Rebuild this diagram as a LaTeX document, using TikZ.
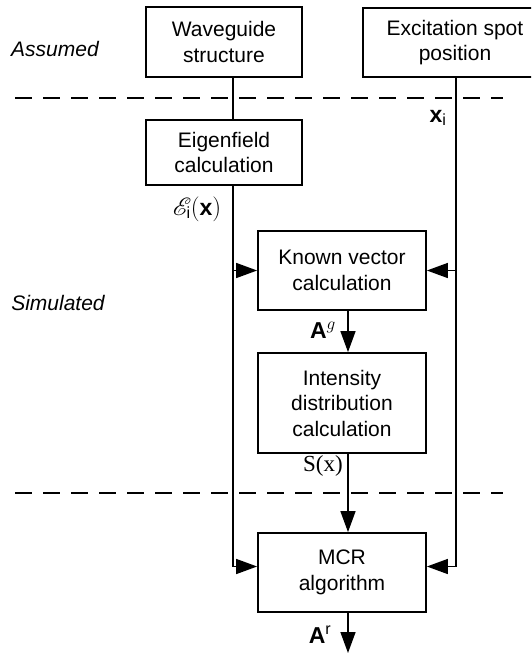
\documentclass[tikz,border=0pt]{standalone}
\usepackage{fontspec}
\usepackage{mathrsfs}
\setmainfont{Liberation Sans}
\newfontfamily\seriffont{Liberation Serif}
\usetikzlibrary{arrows.meta}
\begin{document}
\begin{tikzpicture}[x=1pt,y=-1pt,
  box/.style={draw, line width=1.8pt, rectangle, align=center, inner sep=0pt,
    font=\fontsize{21}{25.5}\selectfont},
  lab/.style={inner sep=0pt, font=\fontsize{21}{24}\selectfont},
  mlab/.style={inner sep=0pt, font=\fontsize{23}{24}\selectfont},
  conn/.style={line width=1.5pt},
  arr/.style={line width=1.5pt, -{Triangle[length=21pt,width=15pt]}},
  dashline/.style={line width=2.5pt, dash pattern=on 17pt off 11pt}]
\useasboundingbox (0,0) rectangle (531,654);
\clip (0,0) rectangle (531,654);
% boxes
\node[box, minimum width=156pt, minimum height=70pt] (wg) at (224,42) {Waveguide\\structure};
\node[box, minimum width=184pt, minimum height=69pt] (exc) at (455,42.5) {Excitation spot\\position};
\node[box, minimum width=156pt, minimum height=65pt] (eig) at (224,152.5) {Eigenfield\\calculation};
\node[box, minimum width=168pt, minimum height=79pt] (known) at (342,270.5) {Known vector\\calculation};
\node[box, minimum width=168pt, minimum height=100pt] (int) at (342,403) {Intensity\\distribution\\calculation};
\node[box, minimum width=168pt, minimum height=79pt] (mcr) at (342,572.5) {MCR\\algorithm};
% side labels
\node[lab] (assumed) at (55,49) {\itshape Assumed};
\node[lab] (simulated) at (58,303) {\itshape Simulated};
% dashed separators
\draw[dashline] (15,98) -- (503,98);
\draw[dashline] (15,493) -- (503,493);
% guide coordinates
\coordinate (L) at (233,0);
\coordinate (R) at (456,0);
\coordinate (M) at (348,0);
\coordinate (out) at (348,653);
% connectors
\draw[conn] (wg.south -| L) -- (eig.north -| L);
\draw[arr] (eig.south -| L) |- ([yshift=6pt]mcr.west);
\draw[arr] (L |- known.west) -- (known.west);
\draw[arr] (exc.south -| R) |- ([yshift=6pt]mcr.east);
\draw[arr] (R |- known.east) -- (known.east);
\draw[arr] (known.south -| M) -- (int.north -| M);
\draw[arr] (int.south -| M) -- (mcr.north -| M);
\draw[arr] (mcr.south -| M) -- (out);
% connector labels
\node[mlab] (xi) at (438,118) {$\mathbf{x}_{\mathrm{i}}$};
\node[mlab] (ei) at (197,209) {$\mathscr{E}_{\mathrm{i}}(\mathbf{x})$};
\node[mlab] (ag) at (323,330) {\textbf{A}$^{g}$};
\node[mlab] (sx) at (323,466) {{\seriffont S(x)}};
\node[mlab] (ar) at (320,635) {\textbf{A}$^{\mathrm{r}}$};
\end{tikzpicture}
\end{document}
